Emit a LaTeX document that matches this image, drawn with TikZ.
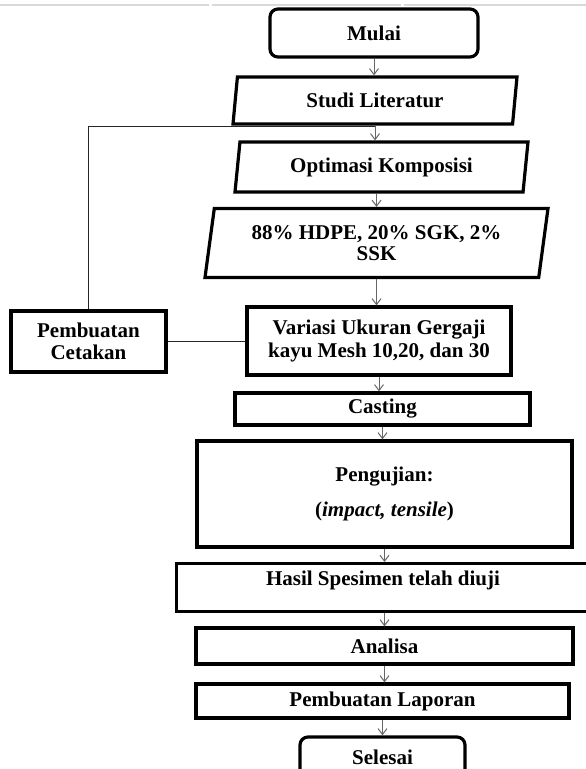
\documentclass[tikz,border=0pt]{standalone}
\usepackage{fontspec}
\setmainfont{Liberation Serif}
\usetikzlibrary{shapes.geometric,arrows.meta,calc}
\begin{document}
\begin{tikzpicture}[x=1pt,y=-1pt,
  txt/.style={font=\fontsize{21}{21.5}\selectfont\bfseries, align=center, inner sep=0pt},
  box/.style={txt, draw=black, line width=3.2pt, rectangle},
  term/.style={box, rounded corners=8pt},
  para/.style={box, trapezium, trapezium stretches body},
  flow/.style={draw=black!60, line width=1pt, -{Straight Barb[length=6pt,width=9pt]}},
  link/.style={draw=black!85, line width=1.3pt},
  scanline/.style={draw=black!15, line width=2pt}
]
\useasboundingbox (0,0) rectangle (586,769);
\draw[scanline] (0,5) -- (209,5) (212,5) -- (401,5) (404,5) -- (586,5);

\node[term, minimum width=208, minimum height=48] (mulai) at (374,33) {Mulai};
\node[para, trapezium left angle=73.4, trapezium right angle=106.6,
      minimum width=284, minimum height=47] (studi) at (375,100.5) {Studi Literatur};
\node[para, trapezium left angle=75.4, trapezium right angle=104.6,
      minimum width=293, minimum height=50] (opt) at (381.5,167) {Optimasi Komposisi};
\node[para, trapezium left angle=75.4, trapezium right angle=104.6,
      minimum width=343, minimum height=69] (komp) at (376.5,243) {88\% HDPE, 20\% SGK, 2\%\\SSK};
\node[box, minimum width=264, minimum height=68] (var) at (379,341) {Variasi Ukuran Gergaji\\[1.5pt]kayu Mesh 10,20, dan 30};
\node[box, minimum width=155, minimum height=61] (cet) at (88.5,341.5) {Pembuatan\\Cetakan};
\node[box, minimum width=295, minimum height=32] (cast) at (382.5,409) {Casting};
\node[box, minimum width=375, minimum height=106] (uji) at (384.5,494) {Pengujian:\\[13pt](\textit{impact, tensile})};
\node[box, minimum width=430, minimum height=48, anchor=north west] (hasil) at (175,562) {};
\node[txt] (hasiltxt) at (383,580) {Hasil Spesimen telah diuji};
\node[box, minimum width=377, minimum height=36] (ana) at (384.5,646) {Analisa};
\node[box, minimum width=373, minimum height=34] (lap) at (382.5,701) {Pembuatan Laporan};
\node[term, minimum width=165, minimum height=40] (sel) at (382.5,757) {Selesai};

\path (studi.south) ++(0,1) coordinate (j);

\draw[flow] (mulai.south) -- (mulai.south |- studi.north);
\draw[flow] (studi.south) -- (studi.south |- opt.north);
\draw[flow] (komp.north |- opt.south) -- (komp.north);
\draw[flow] (komp.south) -- (komp.south |- var.north);
\draw[flow] (var.south) -- (var.south |- cast.north);
\draw[flow] (cast.south) -- (cast.south |- uji.north);
\draw[flow] (uji.south) -- (uji.south |- hasil.north);
\draw[flow] (ana.north |- hasil.south) -- (ana.north);
\draw[flow] (ana.south) -- (ana.south |- lap.north);
\draw[flow] (lap.south) -- (lap.south |- sel.north);

\draw[link] (cet.north) |- (j);
\draw[link] (cet.east) -- (cet.east -| var.west);
\end{tikzpicture}
\end{document}
